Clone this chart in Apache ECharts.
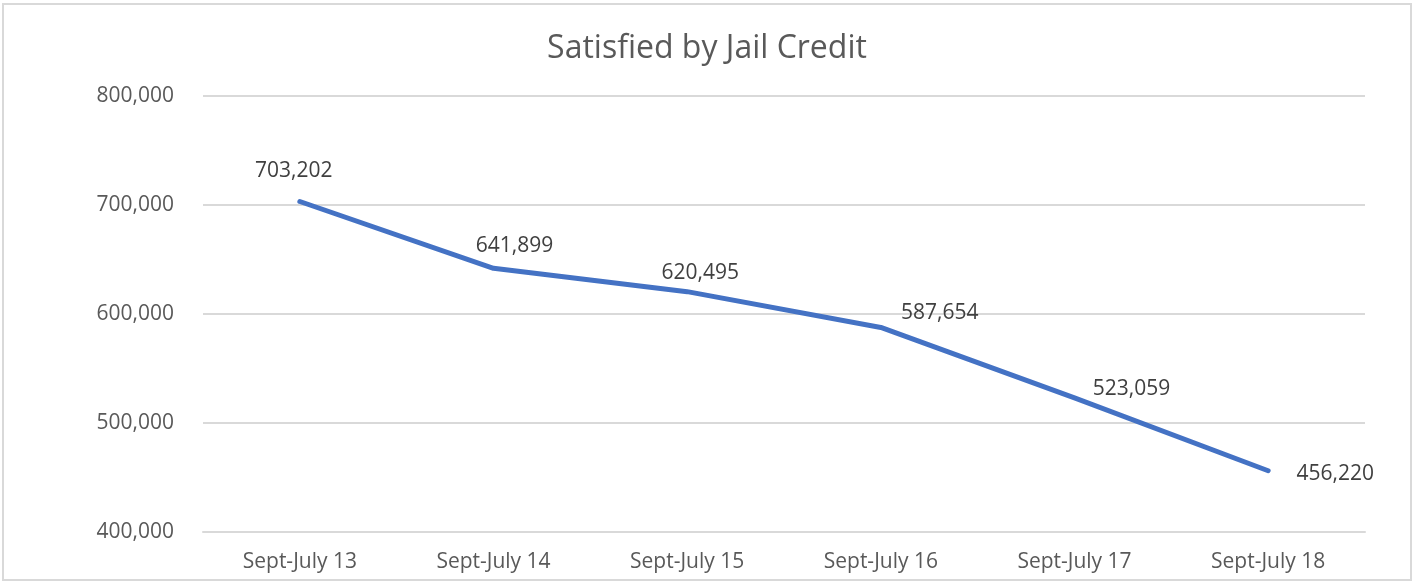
<!DOCTYPE html>
<html>
<head>
<meta charset="utf-8">
<script src="https://cdn.jsdelivr.net/npm/echarts@6/dist/echarts.min.js"></script>
<style>
  html, body { margin: 0; padding: 0; background: #fff; }
  #frame { position: absolute; left: 2px; top: 3px; width: 1406px; height: 574px; border: 2px solid #d9d9d9; }
  #chart { width: 1414px; height: 581px; }
</style>
</head>
<body>
<div id="frame"></div>
<div id="chart"></div>
<script>
const categories = ['Sept-July 13', 'Sept-July 14', 'Sept-July 15', 'Sept-July 16', 'Sept-July 17', 'Sept-July 18'];
const satisfied = [703202, 641899, 620495, 587654, 523059, 456220];

// label nudges from the point, roughly where excel put them
const labelOffsets = [[-6, -30], [21, -22], [13, -19], [59, -14], [57, -9], [67, 3]];

const fmt = (v) => v.toLocaleString('en-US');
const font = '"Open Sans", "Liberation Sans", sans-serif';

const chart = echarts.init(document.getElementById('chart'));
chart.setOption({
  animation: false,
  title: {
    text: 'Satisfied by Jail Credit',
    left: 'center',
    top: 28,
    textStyle: { fontFamily: font, fontSize: 32, fontWeight: 'normal', color: '#595959' },
  },
  grid: { left: 203, right: 49, top: 96, bottom: 49 },
  xAxis: {
    type: 'category',
    data: categories,
    axisLine: { show: true, lineStyle: { color: '#d9d9d9', width: 2 } },
    axisTick: { show: false },
    axisLabel: { fontFamily: font, fontSize: 21, color: '#595959', margin: 20 },
  },
  yAxis: {
    type: 'value',
    min: 400000,
    max: 800000,
    interval: 100000,
    axisLine: { show: false },
    axisTick: { show: false },
    axisLabel: { fontFamily: font, fontSize: 21, color: '#595959', margin: 29, formatter: fmt },
    splitLine: { lineStyle: { color: '#d9d9d9', width: 2 } },
  },
  series: [
    {
      type: 'line',
      data: satisfied.map((v, i) => ({
        value: v,
        label: { offset: labelOffsets[i] },
      })),
      symbol: 'circle',
      symbolSize: 1,
      showSymbol: true,
      itemStyle: { color: '#4472c4' },
      lineStyle: { color: '#4472c4', width: 5, cap: 'round', join: 'round' },
      label: {
        show: true,
        position: 'inside',
        fontFamily: font,
        fontSize: 21,
        color: '#404040',
        formatter: (p) => fmt(p.value),
      },
    },
  ],
});
</script>
</body>
</html>
